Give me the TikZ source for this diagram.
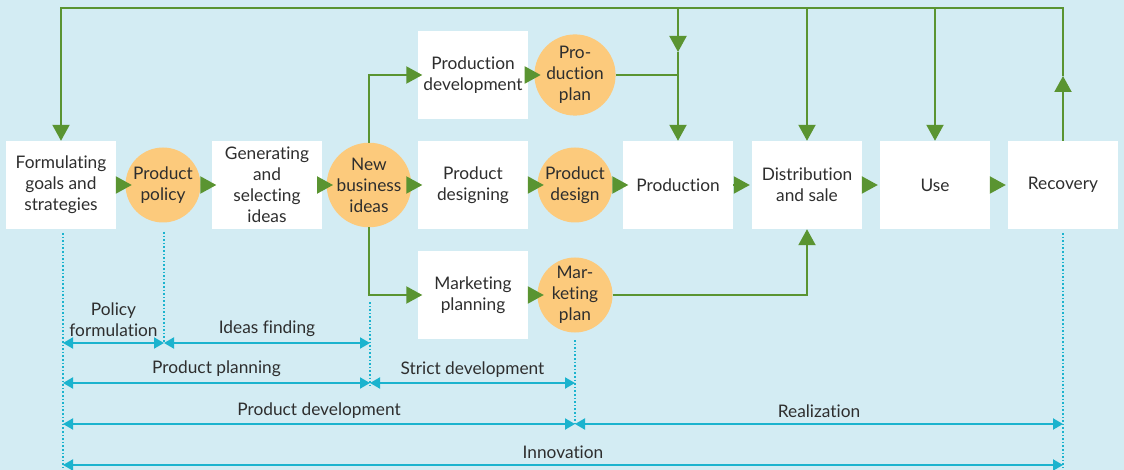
\documentclass[tikz,border=0pt]{standalone}
\usepackage{fontspec}
\setmainfont{Lato}[RawFeature={-liga;-dlig}]
\usetikzlibrary{arrows.meta}
\definecolor{bg}{HTML}{D3ECF3}
\definecolor{gr}{HTML}{5A9431}
\definecolor{cy}{HTML}{1BB3CE}
\definecolor{circfill}{HTML}{FCCA7C}
\definecolor{txt}{HTML}{2E2E2E}
\newcommand\fsz{\fontsize{17.3}{21}\selectfont}
\begin{document}
\begin{tikzpicture}[x=1pt,y=-1pt,
  box/.style={fill=white, minimum width=110pt, minimum height=88pt, inner sep=0pt, align=center, text=txt, font=\fsz},
  circ/.style={circle, fill=circfill, minimum size=75pt, inner sep=0pt, align=center, text=txt, font=\fsz},
  gline/.style={draw=gr, line width=2pt},
  garr/.style={gline, -{Triangle[length=16pt,width=17pt]}},
  b2c/.style={shorten >=-6.5pt},
  c2b/.style={shorten >=-4.5pt},
  b2b/.style={shorten >=2pt},
  dim/.style={draw=cy, line width=2pt, {Triangle[length=10pt,width=11pt]}-{Triangle[length=10pt,width=11pt]}},
  dotl/.style={draw=cy, line width=1.6pt, dotted},
  lab/.style={text=txt, font=\fsz, inner sep=0pt, align=center, above=5pt}]
\useasboundingbox (0,0) rectangle (1124,470);
\fill[bg] (0,0) rectangle (1124,470);

% main row
\node[box]  (form) at (61,185)  {Formulating\\goals and\\strategies};
\node[circ] (pol)  at (163,185) {Product\\policy};
\node[box]  (gen)  at (267,185) {Generating\\and\\selecting\\ideas};
\node[circ] (nbi)  at (369,185) {New\\business\\ideas};
\node[box]  (pdes) at (473,185) {Product\\designing};
\node[circ] (pd)   at (575,185) {Product\\design};
\node[box]  (prod) at (678,185) {Production};
\node[box]  (dist) at (807,185) {Distribution\\and sale};
\node[box]  (use)  at (935,185) {Use};
\node[box]  (rec)  at (1063,185) {Recovery};
% top row
\node[box]  (pdev)  at (473,75) {Production\\development};
\node[circ] (pplan) at (575,75) {Pro-\\duction\\plan};
% bottom row
\node[box]  (mkt)   at (473,295) {Marketing\\planning};
\node[circ] (mplan) at (575,295) {Mar-\\keting\\plan};

% main row arrows
\draw[garr,b2c] (form.east) -- (pol.west);
\draw[garr,c2b] (pol.east) -- (gen.west);
\draw[garr,b2c] (gen.east) -- (nbi.west);
\draw[garr,c2b] (nbi.east) -- (pdes.west);
\draw[garr,b2c] (pdes.east) -- (pd.west);
\draw[garr,shorten >=-5.5pt] (pd.east) -- (prod.west);
\draw[garr,b2b] (prod.east) -- (dist.west);
\draw[garr,b2b] (dist.east) -- (use.west);
\draw[garr,b2b] (use.east) -- (rec.west);

% branches
\draw[garr,c2b] (nbi.north) |- (pdev.west);
\draw[garr,b2c] (pdev.east) -- (pplan.west);
\draw[garr,c2b] (nbi.south) |- (mkt.west);
\draw[garr,b2c] (mkt.east) -- (mplan.west);
\draw[gline] (pplan.east) -- (prod.north |- pplan.east);
\draw[garr] (mplan.east) -| (dist.south);

% feedback loop
\coordinate (tl) at (61,8);
\coordinate (tr) at (1063,8);
\coordinate (ra) at (1063,76);
\coordinate (pa) at (678,52);
\draw[garr] (rec.north) -- (ra);
\draw[garr] (ra) -- (tr) -- (tl) -- (form.north);
\draw[garr] (prod.north |- tl) -- (pa);
\draw[garr] (pa) -- (prod.north);
\draw[garr] (dist.north |- tl) -- (dist.north);
\draw[garr] (use.north |- tl) -- (use.north);

% dimension lines
\coordinate (va) at (63,0);
\coordinate (vb) at (164,0);
\coordinate (vc) at (370,0);
\coordinate (vd) at (575,0);
\coordinate (ve) at (1063,0);
\coordinate (ya) at (0,343);
\coordinate (yb) at (0,383);
\coordinate (yc) at (0,424);
\coordinate (yd) at (0,465);

\draw[dotl] (va |- 0,233) -- (va |- 0,468);
\draw[dotl] (vb |- 0,232) -- (vb |- ya);
\draw[dotl] (vc |- 0,302) -- (vc |- 0,386);
\draw[dotl] (vd |- 0,340) -- (vd |- 0,425);
\draw[dotl] (ve |- 0,233) -- (ve |- 0,468);

\draw[dim] (va |- ya) -- (vb |- ya) node[lab, midway] (l1) {Policy\\formulation};
\draw[dim] (vb |- ya) -- (vc |- ya) node[lab, midway] (l2) {Ideas finding};
\draw[dim] (va |- yb) -- (vc |- yb) node[lab, midway] (l3) {Product planning};
\draw[dim] (vc |- yb) -- (vd |- yb) node[lab, midway] (l4) {Strict development};
\draw[dim] (va |- yc) -- (vd |- yc) node[lab, midway] (l5) {Product development};
\draw[dim] (vd |- yc) -- (ve |- yc) node[lab, midway] (l6) {Realization};
\draw[dim] (va |- yd) -- (ve |- yd) node[lab, midway] (l7) {Innovation};
\end{tikzpicture}
\end{document}
